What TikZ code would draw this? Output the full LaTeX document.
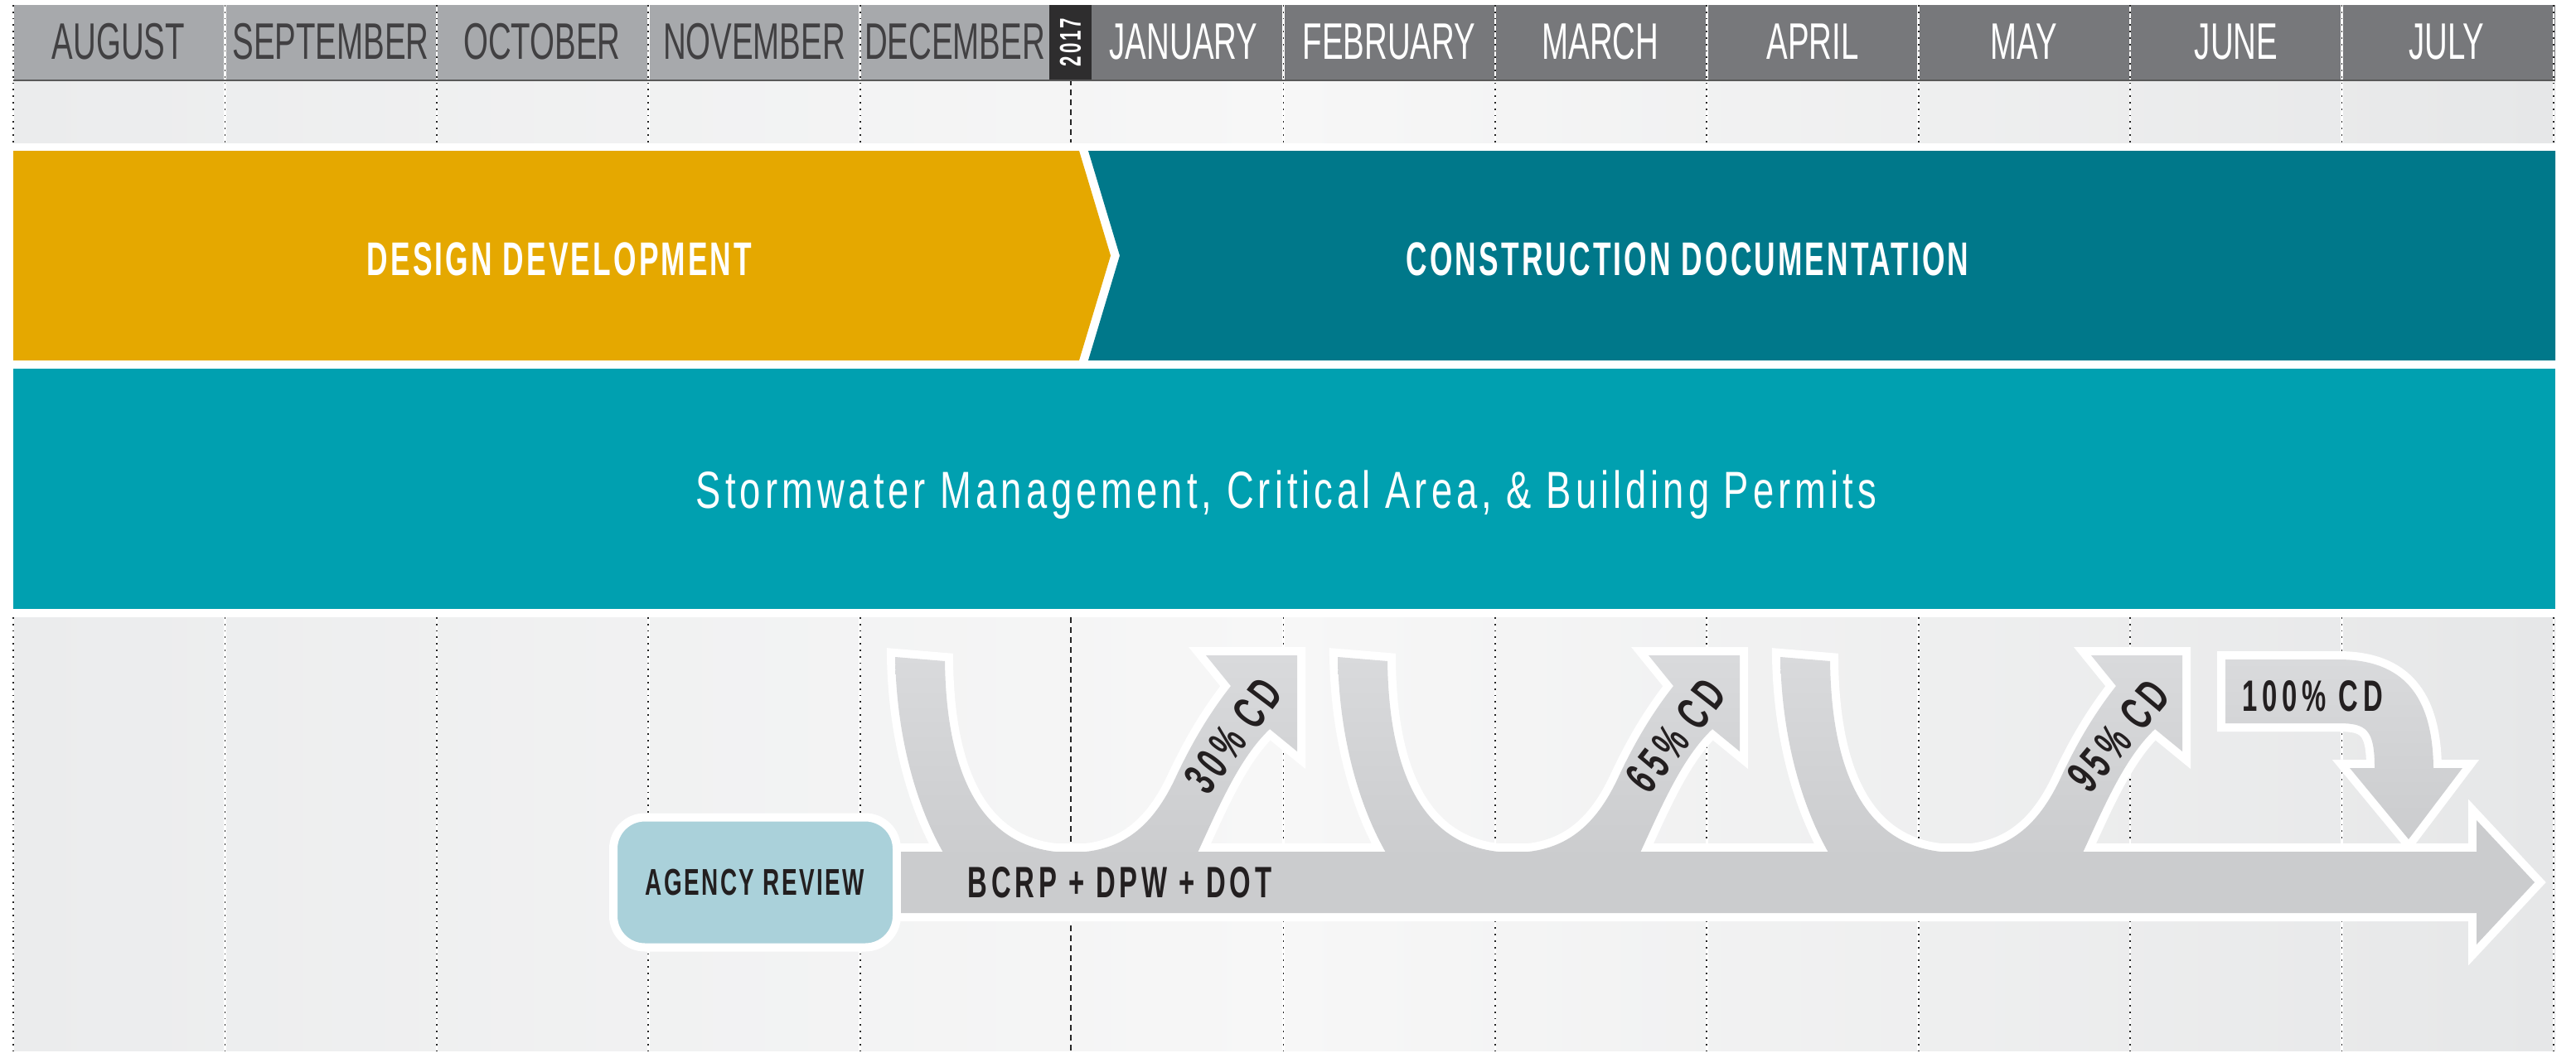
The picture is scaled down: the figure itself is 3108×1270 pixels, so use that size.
\documentclass[tikz,border=0pt]{standalone}
\usepackage{fontspec}
\setmainfont{Liberation Sans}
\newfontfamily\monthfont[FakeStretch=0.62]{Liberation Sans}
\newfontfamily\tagfont[FakeStretch=0.62,LetterSpace=5.5]{Liberation Sans}
\newfontfamily\permitfont[FakeStretch=0.72,LetterSpace=8]{Liberation Sans}
\usetikzlibrary{calc}

\definecolor{hdrlight}{HTML}{A7A9AC}
\definecolor{hdrdark}{HTML}{77787B}
\definecolor{yearbox}{HTML}{2E2D2E}
\definecolor{monthtext}{HTML}{414042}
\definecolor{ddgold}{HTML}{E5A800}
\definecolor{cdteal}{HTML}{00788A}
\definecolor{permitcyan}{HTML}{00A0B0}
\definecolor{agencyblue}{HTML}{AAD1DA}
\definecolor{flowgray}{HTML}{CBCCCE}
\definecolor{flowlight}{HTML}{D9DADC}
\definecolor{inktext}{HTML}{231F20}
\definecolor{paneledge}{HTML}{EBECED}
\definecolor{panelmid}{HTML}{F7F7F7}
\definecolor{paneright}{HTML}{E6E7E8}

% review loops, the 100% hand-off and the agency flow arrow
% #1 style of the loops, #2 style of the long arrow
\newcommand\flowshapes[2]{%
  \foreach \dx in {0,534,1068}{%
    \path[#1, xshift=\dx] (1080,793) .. controls (1082,900) and (1110,980) .. (1138,1029)
      -- (1138,1040) -- (1445,1040) -- (1445,1029)
      .. controls (1470,975) and (1495,915) .. (1532,880)
      -- (1565,907) -- (1565,791) -- (1455,791) -- (1485,828)
      .. controls (1460,860) and (1440,893) .. (1420,935)
      .. controls (1395,990) and (1360,1029) .. (1292,1029)
      .. controls (1200,1029) and (1142,960) .. (1140,798) -- cycle;
  }
  \path[#1] (2685,796) -- (2821,796) .. controls (2900,796) and (2935,840) .. (2936,927)
    -- (2971,927) -- (2906,1013) -- (2835,927) -- (2865,927)
    .. controls (2865,880) and (2855,873) .. (2821,873) -- (2685,873) -- cycle;
  \path[#2] ($(agency.east)+(0,-37)$) -- (2988,1028) -- (2988,990) -- (3058,1065)
    -- (2988,1140) -- (2988,1102) -- ($(agency.east)+(0,37)$) -- cycle;
}

\begin{document}
\begin{tikzpicture}[x=1pt, y=-1pt,
  monthlabel/.style={anchor=base, font=\monthfont\fontsize{62}{62}\selectfont},
  phaselabel/.style={anchor=base, text=white, font=\tagfont\bfseries\fontsize{57}{57}\selectfont},
  steplabel/.style={text=inktext, font=\tagfont\bfseries\fontsize{57}{57}\selectfont\addfontfeature{LetterSpace=10}},
  loopedge/.style={draw=white, line width=20pt},
  flowfill/.style={top color=flowlight, bottom color=flowgray},
  panel/.style={left color=paneledge, right color=paneright, middle color=panelmid},
  monthrule/.style={preaction={draw=white, solid, line width=2.6pt}, draw=black!85, line width=1.8pt, dash pattern=on 1.8pt off 6pt},
  yearrule/.style={preaction={draw=white, solid, line width=2.6pt}, draw=black!85, line width=2pt, dash pattern=on 7pt off 5pt},
  agencybox/.style={draw=white, line width=10pt, fill=agencyblue, rounded corners=38pt,
    minimum width=342pt, minimum height=157pt, inner sep=0pt, text=inktext,
    font=\tagfont\bfseries\fontsize{45}{45}\selectfont}]
\useasboundingbox (0,0) rectangle (3108,1270);
\fill[white] (0,0) rectangle (3108,1270);

% month header
\fill[hdrlight] (16,6) rectangle (1266,96);
\fill[hdrdark] (1317,6) rectangle (3083,96);
\shade[panel] (16,98) rectangle (3083,172);
\shade[panel] (16,745) rectangle (3083,1268);

\foreach \k in {0,1,2,3,4,6,7,8,9,10,11,12} {
  \draw[monthrule] (16+255.4*\k,6) -- (16+255.4*\k,172);
  \draw[monthrule] (16+255.4*\k,745) -- (16+255.4*\k,1268);
}
\draw[yearrule] (1292,96) -- (1292,172);
\draw[yearrule] (1292,745) -- (1292,1268);
\draw[black!65, line width=2.5pt] (16,97) -- (3083,97);

\fill[yearbox] (1266,6) rectangle (1317,96);
\node[rotate=90, text=white, font=\tagfont\bfseries\fontsize{36}{36}\selectfont\addfontfeature{LetterSpace=8}] (year) at (1291.5,51) {2017};

\foreach \x/\m in {143/AUGUST, 399/SEPTEMBER, 654/OCTOBER, 910/NOVEMBER, 1152/DECEMBER}
  \node[monthlabel, text=monthtext] (m\m) at (\x,71) {\m};
\foreach \x/\m in {1428/JANUARY, 1676/FEBRUARY, 1931/MARCH, 2187/APRIL, 2442/MAY, 2698/JUNE, 2952/JULY}
  \node[monthlabel, text=white] (m\m) at (\x,71) {\m};

% phases
\fill[ddgold] (16,182) -- (1302,182) -- (1340,308.5) -- (1302,435) -- (16,435) -- cycle;
\fill[cdteal] (1313,182) -- (3083,182) -- (3083,435) -- (1313,435) -- (1351,308.5) -- cycle;
\fill[permitcyan] (16,445) rectangle (3083,735);
\node[phaselabel] (design) at (675,332) {DESIGN DEVELOPMENT};
\node[phaselabel] (documents) at (2036,332) {CONSTRUCTION DOCUMENTATION};
\node[anchor=base, text=white, font=\permitfont\fontsize{63}{63}\selectfont] (permits) at (1552,613)
  {Stormwater Management, Critical Area, \& Building Permits};

% agency review and submissions
\node[agencybox] (agency) at (911,1065) {AGENCY REVIEW};
\flowshapes{loopedge}{loopedge}
\flowshapes{flowfill}{fill=flowgray}

\node[steplabel, anchor=base, font=\tagfont\bfseries\fontsize{53}{53}\selectfont\addfontfeature{LetterSpace=9}] (agencies) at (1351,1083) {BCRP + DPW + DOT};
\foreach \dx/\pct/\ang in {0/30/53, 534/65/52, 1068/95/50}
  \node[steplabel, rotate=\ang] (cd\pct) at (1488+\dx,888) {\pct\% CD};
\node[steplabel, anchor=base, font=\tagfont\bfseries\fontsize{53}{53}\selectfont\addfontfeature{LetterSpace=11}] (cd100) at (2790,858) {100\% CD};
\end{tikzpicture}
\end{document}
